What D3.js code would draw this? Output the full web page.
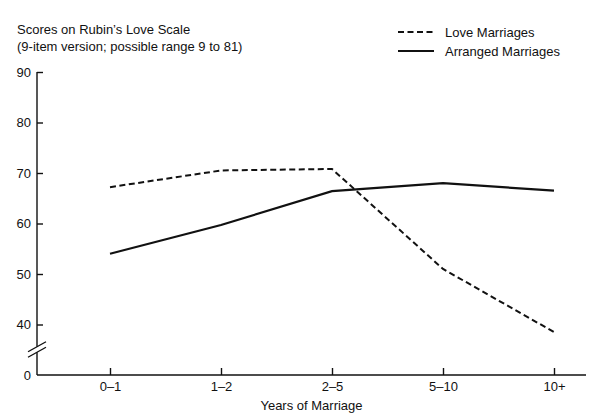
<!DOCTYPE html>
<html>
<head>
<meta charset="utf-8">
<script src="https://cdn.jsdelivr.net/npm/d3@7"></script>
<style>
  html, body { margin: 0; padding: 0; background: #fff; }
  svg { display: block; font-family: "Liberation Sans", Arial, sans-serif; }
</style>
</head>
<body>
<svg id="chart" width="614" height="420"></svg>
<script>
const categories = ["0\u20131", "1\u20132", "2\u20135", "5\u201310", "10+"];
const loveMarriages = [67.2, 70.5, 70.8, 51.0, 38.5];
const arrangedMarriages = [54.0, 59.7, 66.4, 68.0, 66.5];
const yTickValues = [30, 40, 50, 60, 70, 80, 90];
const yTickLabels = ["0", "40", "50", "60", "70", "80", "90"];
const seriesNames = ["Love Marriages", "Arranged Marriages"];
const titleLines = ["Scores on Rubin\u2019s Love Scale", "(9-item version; possible range 9 to 81)"];
const xTitle = "Years of Marriage";

const svg = d3.select("#chart");
const axisX0 = 37, axisX1 = 586, baseY = 375, topY = 72;
const fs = 13;

const x = d3.scalePoint().domain(categories).range([110, 554]);
const y = d3.scaleLinear().domain([30, 90]).range([baseY, topY]);

// Title
svg.append("g").selectAll("text").data(titleLines).join("text")
  .attr("x", 17).attr("y", (d, i) => 33.5 + i * 17.5)
  .attr("font-size", fs).attr("fill", "#111").text(d => d);

// Y axis ticks and labels
const yAxis = d3.axisLeft(y).tickValues(yTickValues)
  .tickSize(-6).tickPadding(6)
  .tickFormat((d, i) => yTickLabels[i]);
const gy = svg.append("g").attr("transform", `translate(${axisX0},0)`).call(yAxis);
gy.select(".domain").remove();
gy.selectAll("text").attr("font-size", fs).attr("fill", "#111").attr("font-family", "Liberation Sans, Arial, sans-serif");
gy.selectAll("line").attr("stroke", "#111").attr("stroke-width", 1.4);
gy.selectAll(".tick").filter(d => d === 30).select("line").remove();

// Y axis line with break
const breakTop = y(35) - 3, breakBot = y(35) + 2.5;
svg.append("line").attr("x1", axisX0).attr("x2", axisX0).attr("y1", topY).attr("y2", breakTop)
  .attr("stroke", "#111").attr("stroke-width", 1.4);
svg.append("line").attr("x1", axisX0).attr("x2", axisX0).attr("y1", breakBot).attr("y2", baseY)
  .attr("stroke", "#111").attr("stroke-width", 1.4);
[breakTop, breakBot].forEach(by => {
  svg.append("line").attr("x1", axisX0 - 9).attr("y1", by + 5).attr("x2", axisX0 + 9).attr("y2", by - 5)
    .attr("stroke", "#111").attr("stroke-width", 1.4);
});

// X axis
const xAxis = d3.axisBottom(x).tickSize(-7).tickPadding(7).tickSizeOuter(0);
const gx = svg.append("g").attr("transform", `translate(0,${baseY})`).call(xAxis);
gx.select(".domain").remove();
gx.selectAll("text").attr("font-size", fs).attr("fill", "#111").attr("font-family", "Liberation Sans, Arial, sans-serif");
gx.selectAll("line").attr("stroke", "#111").attr("stroke-width", 1.4);
svg.append("line").attr("x1", axisX0).attr("x2", axisX1).attr("y1", baseY).attr("y2", baseY)
  .attr("stroke", "#111").attr("stroke-width", 1.6);

svg.append("text").attr("x", 311.5).attr("y", 409.5).attr("text-anchor", "middle")
  .attr("font-size", fs).attr("fill", "#111").text(xTitle);

// Lines
const line = d3.line().x((d, i) => x(categories[i])).y(d => y(d));
svg.append("path").datum(loveMarriages).attr("d", line)
  .attr("fill", "none").attr("stroke", "#111").attr("stroke-width", 2)
  .attr("stroke-dasharray", "6,3.5");
svg.append("path").datum(arrangedMarriages).attr("d", line)
  .attr("fill", "none").attr("stroke", "#111").attr("stroke-width", 2.2);

// Legend
const leg = svg.append("g");
seriesNames.forEach((name, i) => {
  const ly = 32 + i * 19;
  leg.append("line").attr("x1", 398).attr("x2", 434).attr("y1", ly).attr("y2", ly)
    .attr("stroke", "#111").attr("stroke-width", 2)
    .attr("stroke-dasharray", i === 0 ? "6,3.5" : null);
  leg.append("text").attr("x", 445).attr("y", ly + 4.5).attr("font-size", fs)
    .attr("fill", "#111").text(name);
});
</script>
</body>
</html>
